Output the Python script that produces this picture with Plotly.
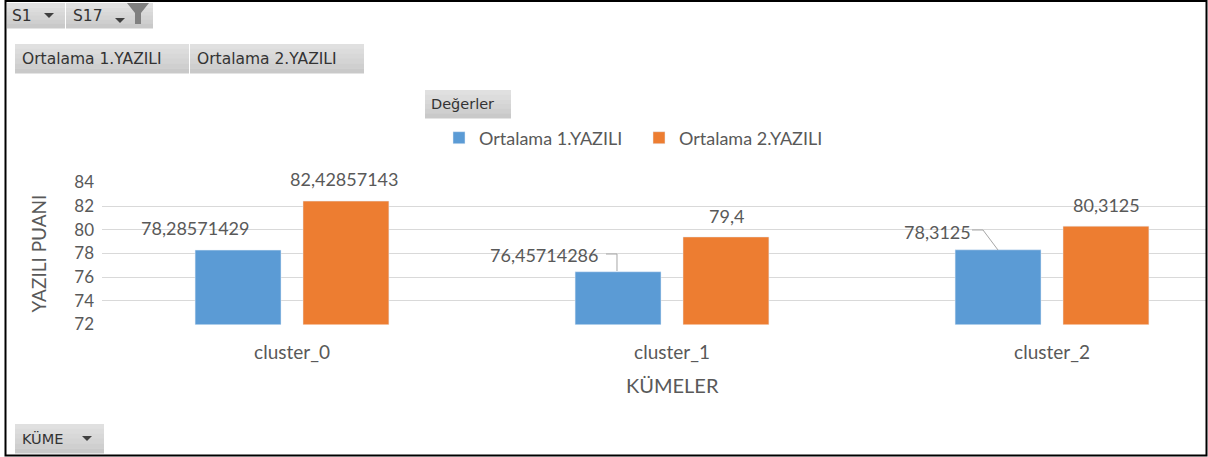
import plotly.graph_objects as go

W, H = 1208, 457
categories = ["cluster_0", "cluster_1", "cluster_2"]
series_1_name = "Ortalama 1.YAZILI"
series_2_name = "Ortalama 2.YAZILI"
series_1 = [78.28571429, 76.45714286, 78.3125]
series_2 = [82.42857143, 79.4, 80.3125]
y_ticks = [72, 74, 76, 78, 80, 82, 84]

GREY = "#595959"
BAR_1, BAR_2 = "#5b9bd5", "#ed7d31"
CHART_FONT = "Lato"
UI_FONT = "DejaVu Sans"


def px(x):
    return x / W


def py(y):
    return 1 - y / H


shapes, annotations = [], []


def rect(x0, y0, x1, y1, fill):
    shapes.append(dict(type="rect", xref="paper", yref="paper", x0=px(x0), x1=px(x1),
                       y0=py(y0), y1=py(y1), fillcolor=fill, line_width=0, layer="below"))


def poly(points, fill=None, line=None, width=1):
    d = "M" + "L".join(f"{px(a):.5f},{py(b):.5f}" for a, b in points)
    if fill:
        d += "Z"
    shapes.append(dict(type="path", xref="paper", yref="paper", path=d,
                       fillcolor=fill or "rgba(0,0,0,0)",
                       line=dict(color=line or "rgba(0,0,0,0)", width=width)))


def text(x, y, s, size, font=CHART_FONT, color=GREY, anchor="center"):
    annotations.append(dict(xref="paper", yref="paper", x=px(x), y=py(y), text=s, showarrow=False,
                            xanchor=anchor, yanchor="middle", borderpad=0,
                            font=dict(family=font, size=size, color=color)))


def button(x0, y0, x1, y1, label, tx, size=15.5):
    stops = ["#e0e0e0", "#dcdcdc", "#d8d8d8", "#d4d4d4", "#cfcfcf", "#c9c9c9"]
    h = (y1 - y0) / len(stops)
    for i, c in enumerate(stops):
        rect(x0, y0 + i * h, x1, y0 + (i + 1) * h + 0.4, c)
    text(tx, (y0 + y1) / 2, label, size, font=UI_FONT, color="#333333", anchor="left")


def arrow(cx, cy):
    poly([(cx - 5, cy - 2), (cx + 5, cy - 2), (cx, cy + 3)], fill="#404040")


# Pivot-chart field buttons
button(7, 3, 65, 28, "S1", 11)
arrow(49, 15)
button(66, 3, 153, 28, "S17", 72)
arrow(120, 20)
poly([(127, 3), (149, 3), (141, 13), (141, 24), (135, 24), (135, 13)], fill="#808080")
button(15, 44, 189, 73, series_1_name, 21)
button(190, 44, 364, 73, series_2_name, 196)
button(425, 90, 511, 118, "Değerler", 430, size=14.5)
button(15, 424, 104, 453, "KÜME", 21, size=14.5)
arrow(87, 438)


def fmt(v):
    return str(v).replace(".", ",")


# Data labels
text(195, 228, fmt(series_1[0]), 18)
text(344, 179, fmt(series_2[0]), 18)
text(544, 255, fmt(series_1[1]), 18)
text(726, 216, fmt(series_2[1]), 18)
text(937, 232, fmt(series_1[2]), 18)
text(1106, 205, fmt(series_2[2]), 18)

# Category-axis title (centred on the full, clipped category span)
text(672, 385, "KÜMELER", 20)

# Leader lines
poly([(606, 254), (617, 254), (617, 271)], line="#a6a6a6")
poly([(972, 230), (983, 230), (998, 250)], line="#a6a6a6")

# Outer frame
frame = dict(type="rect", xref="paper", yref="paper", x0=px(5.5), x1=px(1206.5), y0=py(1), y1=py(455.5),
             line=dict(color="#000000", width=2), fillcolor="rgba(0,0,0,0)")
shapes.append(frame)

fig = go.Figure()
fig.add_bar(name=series_1_name, x=categories, y=series_1, marker_color=BAR_1)
fig.add_bar(name=series_2_name, x=categories, y=series_2, marker_color=BAR_2)

fig.update_layout(
    width=W, height=H, autosize=False,
    margin=dict(l=0, r=0, t=0, b=0, autoexpand=False),
    paper_bgcolor="white", plot_bgcolor="white",
    barmode="group", bargap=0.432, bargroupgap=0.204,
    font=dict(family=CHART_FONT, color=GREY),
    shapes=shapes, annotations=annotations,
    legend=dict(orientation="h", x=px(439), y=py(138), xanchor="left", yanchor="middle",
                entrywidth=155, entrywidthmode="pixels", itemwidth=30,
                font=dict(family=CHART_FONT, size=18, color=GREY),
                bgcolor="rgba(0,0,0,0)"),
    xaxis=dict(domain=[px(102), px(1206)], range=[-0.5, -0.5 + 1104 / 380], anchor="y",
               showgrid=False, showline=False, ticks="", ticklabelstandoff=14,
               tickfont=dict(family=CHART_FONT, size=19, color=GREY)),
    yaxis=dict(domain=[py(324.5), py(182.5)], range=[72, 84], tickvals=y_ticks,
               gridcolor="#d9d9d9", gridwidth=1, zeroline=False, showline=False, ticks="",
               ticklabelstandoff=7,
               tickfont=dict(family=CHART_FONT, size=17, color=GREY),
               title=dict(text="YAZILI PUANI", font=dict(family=CHART_FONT, size=19, color=GREY), standoff=22)),
)

fig.write_html("out.html", config={"displayModeBar": False},
               post_script="document.body.style.margin='0';")
